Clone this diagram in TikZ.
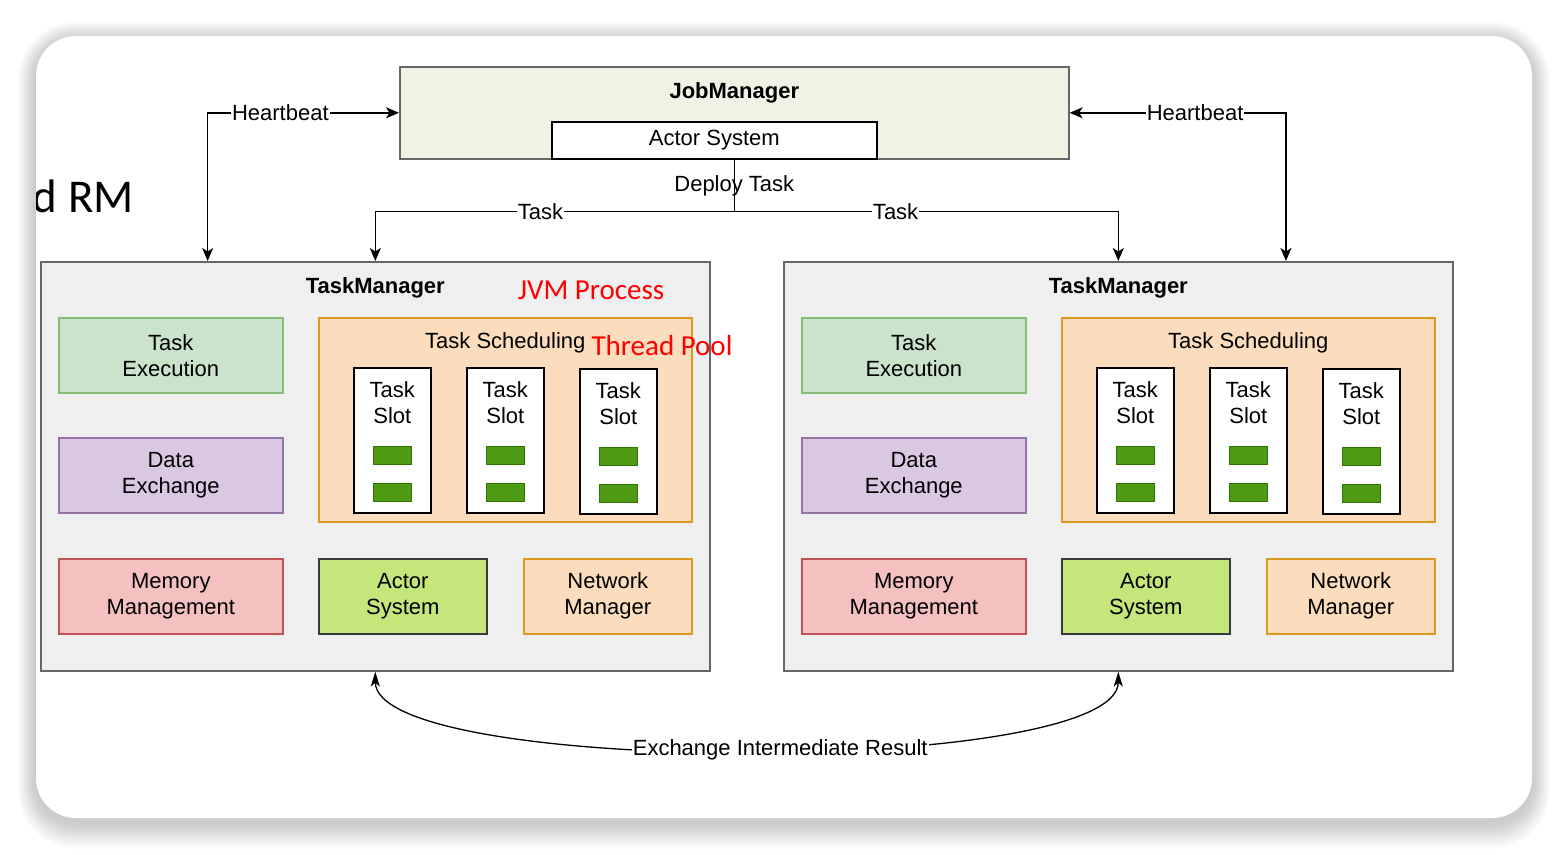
\documentclass[tikz,border=0pt]{standalone}
\usepackage{fontspec}
\setmainfont{Liberation Sans}
\newfontfamily\calfont{Carlito}
\usepackage{tikz}
\usetikzlibrary{arrows.meta}
\usetikzlibrary{positioning}
\usetikzlibrary{calc}
\definecolor{jmfill}{HTML}{F2F2E4}
\definecolor{tmfill}{HTML}{EFEFEF}
\definecolor{tmline}{HTML}{666666}
\definecolor{exfill}{HTML}{CAE3CA}
\definecolor{exline}{HTML}{85BC76}
\definecolor{dxfill}{HTML}{DAC7E1}
\definecolor{dxline}{HTML}{9673A6}
\definecolor{memfill}{HTML}{F5C0C0}
\definecolor{memline}{HTML}{BF5252}
\definecolor{actfill}{HTML}{C5E67B}
\definecolor{actline}{HTML}{36393D}
\definecolor{orfill}{HTML}{FBDDBE}
\definecolor{orline}{HTML}{D99B1E}
\definecolor{barfill}{HTML}{4F9A14}
\definecolor{barline}{HTML}{2D7600}
\newcommand{\lbl}{\fontsize{22}{26}\selectfont}
\newcommand{\redlbl}{\calfont\fontsize{29}{32}\selectfont}
\tikzset{
	box/.style={draw, line width=1.6pt, align=center, font=\lbl, anchor=north west, inner sep=0pt},
	jmbox/.style={box, draw=tmline, fill=jmfill},
	asbox/.style={box, draw=black, fill=white},
	tmbox/.style={box, draw=tmline, fill=tmfill},
	exbox/.style={box, draw=exline, fill=exfill, minimum width=224pt, minimum height=75pt},
	dxbox/.style={box, draw=dxline, fill=dxfill, minimum width=224pt, minimum height=75pt},
	membox/.style={box, draw=memline, fill=memfill, minimum width=224pt, minimum height=75pt},
	actbox/.style={box, draw=actline, fill=actfill, minimum width=168pt, minimum height=75pt},
	netbox/.style={box, draw=orline, fill=orfill, minimum width=168pt, minimum height=75pt},
	schedbox/.style={box, draw=orline, fill=orfill, minimum width=373pt, minimum height=204pt},
	slotbox/.style={box, draw=black, fill=white, minimum width=77pt, minimum height=145pt},
	bar/.style={draw=barline, fill=barfill, line width=1pt, minimum width=38pt, minimum height=18pt, inner sep=0pt},
	title/.style={font=\lbl, inner sep=0pt, align=center},
	flow/.style={line width=1.6pt, {Stealth[length=13pt,width=11pt,inset=3.5pt]}-{Stealth[length=13pt,width=11pt,inset=3.5pt]}},
	tasklink/.style={line width=1.6pt, -{Stealth[length=13pt,width=11pt,inset=3.5pt]}},
	wire/.style={line width=1.6pt},
	exlink/.style={line width=1.3pt, {Stealth[length=15pt,width=9pt,inset=4pt]}-{Stealth[length=15pt,width=9pt,inset=4pt]}},
	tag/.style={font=\lbl, fill=white, inner sep=1pt},
}

\begin{document}
\begin{tikzpicture}[x=1pt, y=-1pt]
\useasboundingbox (0,0) rectangle (1568,854);
% card with its shadow
\foreach \s in {1,...,18}
	\fill[black, opacity=0.012, rounded corners=40+\s] (36-\s,40-\s) rectangle (1532+\s,822+1.5*\s);
\fill[white, rounded corners=40] (36,36) rectangle (1532,818);
\begin{scope}
	\clip[rounded corners=40] (36,36) rectangle (1532,818);
	\node[font=\calfont\fontsize{47}{50}\selectfont, anchor=base east, inner sep=0pt] (rm) at (134,212) {d RM};
\end{scope}

% JobManager
\node[jmbox, minimum width=669pt, minimum height=92pt] (jm) at (399,66) {};
\node[title, font=\lbl\bfseries, below=16pt of jm.north] (jmt) {JobManager};
\node[asbox, minimum width=325pt, minimum height=37pt] (jmas) at (551,121) {Actor System};

% TaskManagers
\foreach \t/\dx in {l/0, r/743} {
\begin{scope}[shift={(\dx,0)}]
	\node[tmbox, minimum width=669pt, minimum height=409pt] (tm\t) at (40,261) {};
	\node[title, font=\lbl\bfseries, below=16pt of tm\t.north] (tmt\t) {TaskManager};
	\node[exbox] (ex\t) at (58,317) {Task\\Execution};
	\node[dxbox] (dx\t) at (58,437) {Data\\Exchange};
	\node[membox] (mem\t) at (58,558) {Memory\\Management};
	\node[actbox] (act\t) at (318,558) {Actor\\System};
	\node[netbox] (net\t) at (523,558) {Network\\Manager};
	\node[schedbox] (ts\t) at (318,317) {};
	\node[title, below=15pt of ts\t.north] (tst\t) {Task Scheduling};
	\foreach \k/\sx/\sy in {1/353/367, 2/466/367, 3/579/368} {
		\node[slotbox] (slot\t\k) at (\sx,\sy) {};
		\node[title, below=14pt of slot\t\k.north] (slt\t\k) {Task\\Slot};
		\node[bar, below=79pt of slot\t\k.north] (bara\t\k) {};
		\node[bar, below=18pt of bara\t\k] (barb\t\k) {};
	}
\end{scope}
}

% notes
\node[font=\redlbl, text=red, inner sep=0pt] (jvm) at (591,290) {JVM Process};
\node[font=\redlbl, text=red, inner sep=0pt] (pool) at (662,346) {Thread Pool};

% heartbeats
\draw[flow] (jm.west) -| ($(tml.north west)!0.25!(tml.north east)$) node[tag, pos=0.31] {Heartbeat};
\draw[flow] (jm.east) -| ($(tmr.north west)!0.75!(tmr.north east)$) node[tag, pos=0.29] {Heartbeat};

% task deployment
\coordinate (split) at ($(jm.south)+(0,52)$);
\draw[wire] (jm.south) -- (split) node[midway, font=\lbl, inner sep=0pt] {Deploy Task};
\draw[tasklink] (split) -| (tml.north) node[tag, pos=0.27] {Task};
\draw[tasklink] (split) -| (tmr.north) node[tag, pos=0.21] {Task};

% data exchange between the two
\draw[exlink] (tml.south) .. controls +(0,105) and +(0,105) .. (tmr.south) node[tag, pos=0.53] {Exchange Intermediate Result};
\end{tikzpicture}
\end{document}
